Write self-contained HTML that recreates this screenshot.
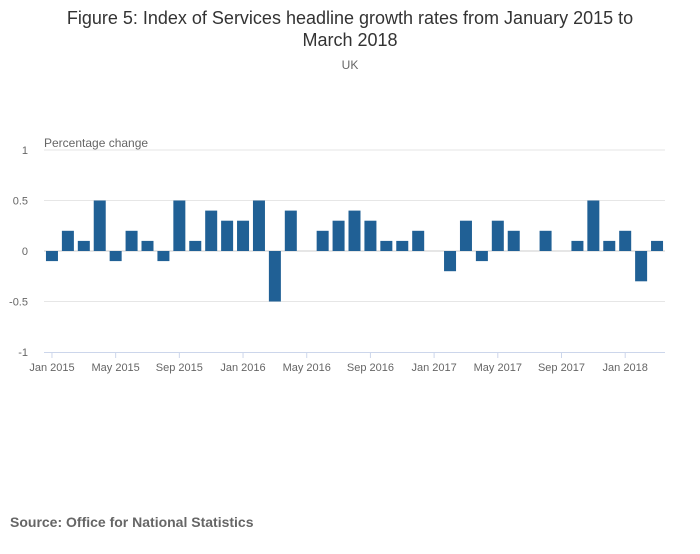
<!DOCTYPE html>
<html><head><meta charset="utf-8"><style>
body{margin:0;background:#fff;font-family:"Liberation Sans",sans-serif;}
#wrap{position:relative;width:700px;height:549px;}
</style></head><body>
<div id="wrap">
<svg id="chart" width="700" height="549">
<text x="350" y="24" text-anchor="middle" font-size="18" fill="#333">Figure 5: Index of Services headline growth rates from January 2015 to</text>
<text x="350" y="46" text-anchor="middle" font-size="18" fill="#333">March 2018</text>
<text x="350" y="69" text-anchor="middle" font-size="12" fill="#666">UK</text>
<text x="44" y="147" font-size="12" fill="#666">Percentage change</text>
<text x="10" y="527" font-size="14" font-weight="bold" fill="#666">Source: Office for National Statistics</text>
<g id="grid"></g><g id="bars"></g><g id="xaxis"></g>
</svg>
</div>
<script>
const values=[-0.1,0.2,0.1,0.5,-0.1,0.2,0.1,-0.1,0.5,0.1,0.4,0.3,0.3,0.5,-0.5,0.4,0,0.2,0.3,0.4,0.3,0.1,0.1,0.2,0,-0.2,0.3,-0.1,0.3,0.2,0,0.2,0,0.1,0.5,0.1,0.2,-0.3,0.1];
const yTicks=[1,0.5,0,-0.5,-1];
const yTickLabels=["1","0.5","0","-0.5","-1"];
const xLabelIdx=[0,4,8,12,16,20,24,28,32,36];
const xLabels=["Jan 2015","May 2015","Sep 2015","Jan 2016","May 2016","Sep 2016","Jan 2017","May 2017","Sep 2017","Jan 2018"];
const NS="http://www.w3.org/2000/svg";
const L=44,R=665,T=150,B=352;
const step=(R-L)/values.length;
const y=v=>T+(1-v)/2*(B-T);
const xc=i=>L+step*(i+0.5);
function mk(tag,attrs,parent){const e=document.createElementNS(NS,tag);for(const k in attrs)e.setAttribute(k,attrs[k]);document.getElementById(parent).appendChild(e);return e;}
yTicks.forEach((t,i)=>{
  if(t!==-1){const g=mk('line',{x1:L,x2:R,y1:y(t),y2:y(t),stroke:t===0?'#ccc':'#e6e6e6','stroke-width':1},'grid');
  
  }
  const tx=mk('text',{x:L-16,y:y(t)+4,'text-anchor':'end','font-size':11,fill:'#666'},'grid');
  tx.textContent=yTickLabels[i];
  
  
});
values.forEach((v,i)=>{
  const bw=12;
  const r=mk('rect',{x:xc(i)-bw/2,y:Math.min(y(v),y(0)),width:bw,height:Math.abs(y(v)-y(0)),fill:'#206095'},'bars');
  
  
});
const ax=mk('line',{x1:L,x2:R,y1:B+0.5,y2:B+0.5,stroke:'#ccd6eb'},'xaxis');


xLabelIdx.forEach((idx,i)=>{
  const tk=mk('line',{x1:xc(idx),x2:xc(idx),y1:B,y2:B+6,stroke:'#ccd6eb'},'xaxis');
  
  
  const tx=mk('text',{x:xc(idx),y:B+19,'text-anchor':'middle','font-size':11,fill:'#666'},'xaxis');
  tx.textContent=xLabels[i];
  
  
});
</script>
</body></html>
